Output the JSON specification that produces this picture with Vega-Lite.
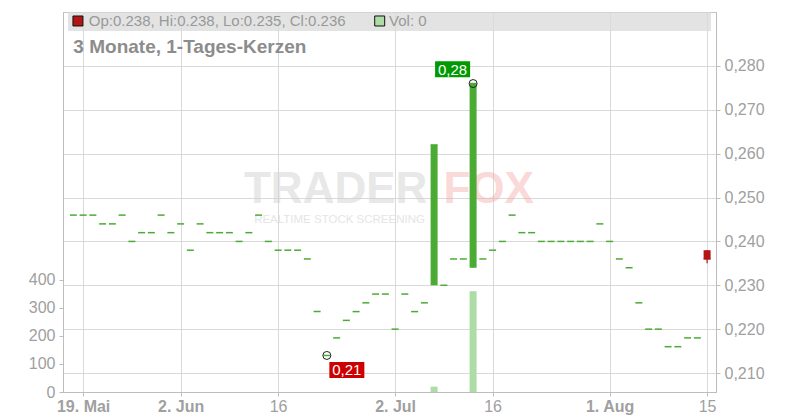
{
  "$schema": "https://vega.github.io/schema/vega-lite/v6.json",
  "width": 653,
  "height": 380,
  "autosize": {"type": "none"},
  "padding": {"left": 63, "top": 12, "right": 84, "bottom": 28},
  "background": "#ffffff",
  "config": {
    "font": "Liberation Sans",
    "view": {"stroke": "#c4c4c4", "strokeWidth": 1},
    "axis": {"domainColor": "#bdbdbd", "tickColor": "#bdbdbd", "gridColor": "#d9d9d9", "labelColor": "#a0a0a0"}
  },
  "data": {"values": [
    {"d": "2025-05-16", "i": -1, "o": 0.246, "h": 0.246, "l": 0.246, "c": 0.246, "v": 0},
    {"d": "2025-05-19", "i": 0, "o": 0.246, "h": 0.246, "l": 0.246, "c": 0.246, "v": 0},
    {"d": "2025-05-20", "i": 1, "o": 0.246, "h": 0.246, "l": 0.246, "c": 0.246, "v": 0},
    {"d": "2025-05-21", "i": 2, "o": 0.244, "h": 0.244, "l": 0.244, "c": 0.244, "v": 0},
    {"d": "2025-05-22", "i": 3, "o": 0.244, "h": 0.244, "l": 0.244, "c": 0.244, "v": 0},
    {"d": "2025-05-23", "i": 4, "o": 0.246, "h": 0.246, "l": 0.246, "c": 0.246, "v": 0},
    {"d": "2025-05-26", "i": 5, "o": 0.240, "h": 0.240, "l": 0.240, "c": 0.240, "v": 0},
    {"d": "2025-05-27", "i": 6, "o": 0.242, "h": 0.242, "l": 0.242, "c": 0.242, "v": 0},
    {"d": "2025-05-28", "i": 7, "o": 0.242, "h": 0.242, "l": 0.242, "c": 0.242, "v": 0},
    {"d": "2025-05-29", "i": 8, "o": 0.246, "h": 0.246, "l": 0.246, "c": 0.246, "v": 0},
    {"d": "2025-05-30", "i": 9, "o": 0.242, "h": 0.242, "l": 0.242, "c": 0.242, "v": 0},
    {"d": "2025-06-02", "i": 10, "o": 0.244, "h": 0.244, "l": 0.244, "c": 0.244, "v": 0},
    {"d": "2025-06-03", "i": 11, "o": 0.238, "h": 0.238, "l": 0.238, "c": 0.238, "v": 0},
    {"d": "2025-06-04", "i": 12, "o": 0.244, "h": 0.244, "l": 0.244, "c": 0.244, "v": 0},
    {"d": "2025-06-05", "i": 13, "o": 0.242, "h": 0.242, "l": 0.242, "c": 0.242, "v": 0},
    {"d": "2025-06-06", "i": 14, "o": 0.242, "h": 0.242, "l": 0.242, "c": 0.242, "v": 0},
    {"d": "2025-06-09", "i": 15, "o": 0.242, "h": 0.242, "l": 0.242, "c": 0.242, "v": 0},
    {"d": "2025-06-10", "i": 16, "o": 0.240, "h": 0.240, "l": 0.240, "c": 0.240, "v": 0},
    {"d": "2025-06-11", "i": 17, "o": 0.242, "h": 0.242, "l": 0.242, "c": 0.242, "v": 0},
    {"d": "2025-06-12", "i": 18, "o": 0.246, "h": 0.246, "l": 0.246, "c": 0.246, "v": 0},
    {"d": "2025-06-13", "i": 19, "o": 0.240, "h": 0.240, "l": 0.240, "c": 0.240, "v": 0},
    {"d": "2025-06-16", "i": 20, "o": 0.238, "h": 0.238, "l": 0.238, "c": 0.238, "v": 0},
    {"d": "2025-06-17", "i": 21, "o": 0.238, "h": 0.238, "l": 0.238, "c": 0.238, "v": 0},
    {"d": "2025-06-18", "i": 22, "o": 0.238, "h": 0.238, "l": 0.238, "c": 0.238, "v": 0},
    {"d": "2025-06-19", "i": 23, "o": 0.236, "h": 0.236, "l": 0.236, "c": 0.236, "v": 0},
    {"d": "2025-06-20", "i": 24, "o": 0.224, "h": 0.224, "l": 0.224, "c": 0.224, "v": 0},
    {"d": "2025-06-23", "i": 25, "o": 0.214, "h": 0.214, "l": 0.214, "c": 0.214, "v": 0},
    {"d": "2025-06-24", "i": 26, "o": 0.218, "h": 0.218, "l": 0.218, "c": 0.218, "v": 0},
    {"d": "2025-06-25", "i": 27, "o": 0.222, "h": 0.222, "l": 0.222, "c": 0.222, "v": 0},
    {"d": "2025-06-26", "i": 28, "o": 0.224, "h": 0.224, "l": 0.224, "c": 0.224, "v": 0},
    {"d": "2025-06-27", "i": 29, "o": 0.226, "h": 0.226, "l": 0.226, "c": 0.226, "v": 0},
    {"d": "2025-06-30", "i": 30, "o": 0.228, "h": 0.228, "l": 0.228, "c": 0.228, "v": 0},
    {"d": "2025-07-01", "i": 31, "o": 0.228, "h": 0.228, "l": 0.228, "c": 0.228, "v": 0},
    {"d": "2025-07-02", "i": 32, "o": 0.220, "h": 0.220, "l": 0.220, "c": 0.220, "v": 0},
    {"d": "2025-07-03", "i": 33, "o": 0.228, "h": 0.228, "l": 0.228, "c": 0.228, "v": 0},
    {"d": "2025-07-04", "i": 34, "o": 0.224, "h": 0.224, "l": 0.224, "c": 0.224, "v": 0},
    {"d": "2025-07-07", "i": 35, "o": 0.226, "h": 0.226, "l": 0.226, "c": 0.226, "v": 0},
    {"d": "2025-07-08", "i": 36, "o": 0.230, "h": 0.262, "l": 0.230, "c": 0.262, "v": 19},
    {"d": "2025-07-09", "i": 37, "o": 0.230, "h": 0.230, "l": 0.230, "c": 0.230, "v": 0},
    {"d": "2025-07-10", "i": 38, "o": 0.236, "h": 0.236, "l": 0.236, "c": 0.236, "v": 0},
    {"d": "2025-07-11", "i": 39, "o": 0.236, "h": 0.236, "l": 0.236, "c": 0.236, "v": 0},
    {"d": "2025-07-14", "i": 40, "o": 0.234, "h": 0.276, "l": 0.234, "c": 0.276, "v": 360},
    {"d": "2025-07-15", "i": 41, "o": 0.236, "h": 0.236, "l": 0.236, "c": 0.236, "v": 0},
    {"d": "2025-07-16", "i": 42, "o": 0.238, "h": 0.238, "l": 0.238, "c": 0.238, "v": 0},
    {"d": "2025-07-17", "i": 43, "o": 0.240, "h": 0.240, "l": 0.240, "c": 0.240, "v": 0},
    {"d": "2025-07-18", "i": 44, "o": 0.246, "h": 0.246, "l": 0.246, "c": 0.246, "v": 0},
    {"d": "2025-07-21", "i": 45, "o": 0.242, "h": 0.242, "l": 0.242, "c": 0.242, "v": 0},
    {"d": "2025-07-22", "i": 46, "o": 0.242, "h": 0.242, "l": 0.242, "c": 0.242, "v": 0},
    {"d": "2025-07-23", "i": 47, "o": 0.240, "h": 0.240, "l": 0.240, "c": 0.240, "v": 0},
    {"d": "2025-07-24", "i": 48, "o": 0.240, "h": 0.240, "l": 0.240, "c": 0.240, "v": 0},
    {"d": "2025-07-25", "i": 49, "o": 0.240, "h": 0.240, "l": 0.240, "c": 0.240, "v": 0},
    {"d": "2025-07-28", "i": 50, "o": 0.240, "h": 0.240, "l": 0.240, "c": 0.240, "v": 0},
    {"d": "2025-07-29", "i": 51, "o": 0.240, "h": 0.240, "l": 0.240, "c": 0.240, "v": 0},
    {"d": "2025-07-30", "i": 52, "o": 0.240, "h": 0.240, "l": 0.240, "c": 0.240, "v": 0},
    {"d": "2025-07-31", "i": 53, "o": 0.244, "h": 0.244, "l": 0.244, "c": 0.244, "v": 0},
    {"d": "2025-08-01", "i": 54, "o": 0.240, "h": 0.240, "l": 0.240, "c": 0.240, "v": 0},
    {"d": "2025-08-04", "i": 55, "o": 0.236, "h": 0.236, "l": 0.236, "c": 0.236, "v": 0},
    {"d": "2025-08-05", "i": 56, "o": 0.234, "h": 0.234, "l": 0.234, "c": 0.234, "v": 0},
    {"d": "2025-08-06", "i": 57, "o": 0.226, "h": 0.226, "l": 0.226, "c": 0.226, "v": 0},
    {"d": "2025-08-07", "i": 58, "o": 0.220, "h": 0.220, "l": 0.220, "c": 0.220, "v": 0},
    {"d": "2025-08-08", "i": 59, "o": 0.220, "h": 0.220, "l": 0.220, "c": 0.220, "v": 0},
    {"d": "2025-08-11", "i": 60, "o": 0.216, "h": 0.216, "l": 0.216, "c": 0.216, "v": 0},
    {"d": "2025-08-12", "i": 61, "o": 0.216, "h": 0.216, "l": 0.216, "c": 0.216, "v": 0},
    {"d": "2025-08-13", "i": 62, "o": 0.218, "h": 0.218, "l": 0.218, "c": 0.218, "v": 0},
    {"d": "2025-08-14", "i": 63, "o": 0.218, "h": 0.218, "l": 0.218, "c": 0.218, "v": 0},
    {"d": "2025-08-15", "i": 64, "o": 0.238, "h": 0.238, "l": 0.235, "c": 0.236, "v": 0}
  ]},
  "encoding": {
    "x": {
      "field": "i", "type": "quantitative",
      "scale": {"domain": [-1.55, 64.4], "nice": false, "zero": false},
      "axis": {
        "title": null, "orient": "bottom",
        "values": [0, 10, 20, 32, 42, 54, 64],
        "labelExpr": "datum.value==0?'19. Mai':datum.value==10?'2. Jun':datum.value==32?'2. Jul':datum.value==54?'1. Aug':datum.value==64?'15':'16'",
        "labelFontSize": 16,
        "labelFontWeight": {"condition": {"test": "datum.value==0||datum.value==10||datum.value==32||datum.value==54", "value": "bold"}, "value": "normal"},
        "labelFlush": false, "labelOverlap": false, "labelBound": false,
        "labelPadding": 2, "tickSize": 4,
        "grid": true
      }
    }
  },
  "layer": [
    {
      "layer": [
        {
          "data": {"values": [{"t": "TRADER", "xi": 25.9, "yp": 0.2518}]},
          "mark": {"type": "text", "fontSize": 44, "fontWeight": "bold", "color": "#d2d2d2", "opacity": 0.5, "align": "center", "baseline": "middle"},
          "encoding": {
            "x": {"field": "xi", "type": "quantitative"},
            "y": {"field": "yp", "type": "quantitative", "scale": {"domain": [0.20567, 0.29231], "nice": false, "zero": false}},
            "text": {"field": "t"}
          }
        },
        {
          "data": {"values": [{"t": "FOX", "xi": 41.6, "yp": 0.2518}]},
          "mark": {"type": "text", "fontSize": 44, "fontWeight": "bold", "color": "#f5a5a5", "opacity": 0.42, "align": "center", "baseline": "middle"},
          "encoding": {
            "x": {"field": "xi", "type": "quantitative"},
            "y": {"field": "yp", "type": "quantitative", "scale": {"domain": [0.20567, 0.29231], "nice": false, "zero": false}},
            "text": {"field": "t"}
          }
        },
        {
          "data": {"values": [{"t": "REALTIME STOCK SCREENING", "xi": 26.3, "yp": 0.2449}]},
          "mark": {"type": "text", "fontSize": 11.5, "color": "#d4d4d4", "opacity": 0.6, "align": "center", "baseline": "middle"},
          "encoding": {
            "x": {"field": "xi", "type": "quantitative"},
            "y": {"field": "yp", "type": "quantitative", "scale": {"domain": [0.20567, 0.29231], "nice": false, "zero": false}},
            "text": {"field": "t"}
          }
        },
        {
          "data": {"values": [{"x1": -1.55, "x2": 64.4, "y1": 0.29231, "y2": 0.28798}]},
          "mark": {"type": "rect", "color": "#d9d9d9", "opacity": 0.75},
          "encoding": {
            "x": {"field": "x1", "type": "quantitative"},
            "x2": {"field": "x2"},
            "y": {"field": "y1", "type": "quantitative", "scale": {"domain": [0.20567, 0.29231], "nice": false, "zero": false}},
            "y2": {"field": "y2"}
          }
        },
        {
          "mark": {"type": "bar", "orient": "vertical", "size": 7, "opacity": 1},
          "encoding": {
            "y": {
              "field": "o", "type": "quantitative",
              "scale": {"domain": [0.20567, 0.29231], "nice": false, "zero": false},
              "axis": {
                "title": null, "orient": "right",
                "values": [0.21, 0.215, 0.22, 0.225, 0.23, 0.235, 0.24, 0.245, 0.25, 0.255, 0.26, 0.265, 0.27, 0.275, 0.28],
                "labelExpr": "replace(format(datum.value, '.3f'), '.', ',')",
                "labelFontSize": 16, "labelPadding": 4, "tickSize": 4,
                "labelOverlap": false, "labelBound": false, "labelFlush": false,
                "grid": true
              }
            },
            "y2": {"field": "c"},
            "color": {"condition": {"test": "datum.c < datum.o", "value": "#b31515"}, "value": "#4bab35"}
          }
        },
        {
          "mark": {"type": "tick", "orient": "horizontal", "size": 7, "thickness": 1.5, "opacity": 1},
          "encoding": {
            "y": {"field": "c", "type": "quantitative", "scale": {"domain": [0.20567, 0.29231], "nice": false, "zero": false}},
            "color": {"condition": {"test": "datum.c < datum.o", "value": "#b31515"}, "value": "#4bab35"}
          }
        },
        {
          "mark": {"type": "rule", "strokeWidth": 1.2, "opacity": 1},
          "encoding": {
            "y": {"field": "l", "type": "quantitative", "scale": {"domain": [0.20567, 0.29231], "nice": false, "zero": false}},
            "y2": {"field": "h"},
            "color": {"condition": {"test": "datum.c < datum.o", "value": "#b31515"}, "value": "#4bab35"}
          }
        },
        {
          "data": {"values": [{"i": 25, "p": 0.214}, {"i": 40, "p": 0.276}]},
          "mark": {"type": "point", "shape": "circle", "size": 64, "filled": false, "stroke": "#222222", "strokeWidth": 1, "opacity": 1},
          "encoding": {
            "y": {"field": "p", "type": "quantitative", "scale": {"domain": [0.20567, 0.29231], "nice": false, "zero": false}}
          }
        },
        {
          "data": {"values": [{"i": 25, "p": 0.214}]},
          "mark": {"type": "point", "shape": "M-1,-0.457L1,-0.457L1,0.457L-1,0.457Z", "size": 1225, "filled": true, "color": "#cc0000", "opacity": 1, "xOffset": 20, "yOffset": 14.5},
          "encoding": {
            "y": {"field": "p", "type": "quantitative", "scale": {"domain": [0.20567, 0.29231], "nice": false, "zero": false}}
          }
        },
        {
          "data": {"values": [{"i": 40, "p": 0.276}]},
          "mark": {"type": "point", "shape": "M-1,-0.457L1,-0.457L1,0.457L-1,0.457Z", "size": 1225, "filled": true, "color": "#009900", "opacity": 1, "xOffset": -20.5, "yOffset": -14.3},
          "encoding": {
            "y": {"field": "p", "type": "quantitative", "scale": {"domain": [0.20567, 0.29231], "nice": false, "zero": false}}
          }
        },
        {
          "data": {"values": [{"i": 25, "p": 0.214, "t": "0,21"}]},
          "mark": {"type": "text", "color": "#ffffff", "fontSize": 15, "align": "center", "baseline": "middle", "xOffset": 20, "yOffset": 15},
          "encoding": {
            "y": {"field": "p", "type": "quantitative", "scale": {"domain": [0.20567, 0.29231], "nice": false, "zero": false}},
            "text": {"field": "t"}
          }
        },
        {
          "data": {"values": [{"i": 40, "p": 0.276, "t": "0,28"}]},
          "mark": {"type": "text", "color": "#ffffff", "fontSize": 15, "align": "center", "baseline": "middle", "xOffset": -20.5, "yOffset": -13.8},
          "encoding": {
            "y": {"field": "p", "type": "quantitative", "scale": {"domain": [0.20567, 0.29231], "nice": false, "zero": false}},
            "text": {"field": "t"}
          }
        },
        {
          "data": {"values": [{"k": "price", "xi": -0.53, "yp": 0.29026}]},
          "mark": {"type": "point", "shape": "square", "size": 100, "filled": true, "fill": "#b31515", "stroke": "#111111", "strokeWidth": 1, "opacity": 1},
          "encoding": {
            "x": {"field": "xi", "type": "quantitative"},
            "y": {"field": "yp", "type": "quantitative", "scale": {"domain": [0.20567, 0.29231], "nice": false, "zero": false}}
          }
        },
        {
          "data": {"values": [{"k": "vol", "xi": 30.42, "yp": 0.29026}]},
          "mark": {"type": "point", "shape": "square", "size": 100, "filled": true, "fill": "#addca7", "stroke": "#111111", "strokeWidth": 1, "opacity": 1},
          "encoding": {
            "x": {"field": "xi", "type": "quantitative"},
            "y": {"field": "yp", "type": "quantitative", "scale": {"domain": [0.20567, 0.29231], "nice": false, "zero": false}}
          }
        },
        {
          "data": {"values": [
            {"t": "Op:0.238, Hi:0.238, Lo:0.235, Cl:0.236", "xi": 0.58, "yp": 0.29026},
            {"t": "Vol: 0", "xi": 31.38, "yp": 0.29026}
          ]},
          "mark": {"type": "text", "fontSize": 15, "color": "#999999", "align": "left", "baseline": "middle"},
          "encoding": {
            "x": {"field": "xi", "type": "quantitative"},
            "y": {"field": "yp", "type": "quantitative", "scale": {"domain": [0.20567, 0.29231], "nice": false, "zero": false}},
            "text": {"field": "t"}
          }
        },
        {
          "data": {"values": [{"t": "3 Monate, 1-Tages-Kerzen", "xi": -1.0, "yp": 0.28433}]},
          "mark": {"type": "text", "fontSize": 19, "fontWeight": "bold", "color": "#8c8c8c", "align": "left", "baseline": "middle"},
          "encoding": {
            "x": {"field": "xi", "type": "quantitative"},
            "y": {"field": "yp", "type": "quantitative", "scale": {"domain": [0.20567, 0.29231], "nice": false, "zero": false}},
            "text": {"field": "t"}
          }
        }
      ]
    },
    {
      "transform": [{"filter": "datum.v > 0"}],
      "mark": {"type": "bar", "orient": "vertical", "size": 7, "color": "#addca7", "opacity": 1},
      "encoding": {
        "y": {
          "field": "v", "type": "quantitative",
          "scale": {"domain": [0, 1357], "nice": false, "zero": true},
          "axis": {
            "title": null, "orient": "left", "values": [0, 100, 200, 300, 400],
            "labelFontSize": 16, "labelPadding": 4, "tickSize": 4, "grid": false,
            "labelOverlap": false, "labelBound": false, "labelFlush": false
          }
        }
      }
    }
  ],
  "resolve": {"scale": {"y": "independent"}}
}
